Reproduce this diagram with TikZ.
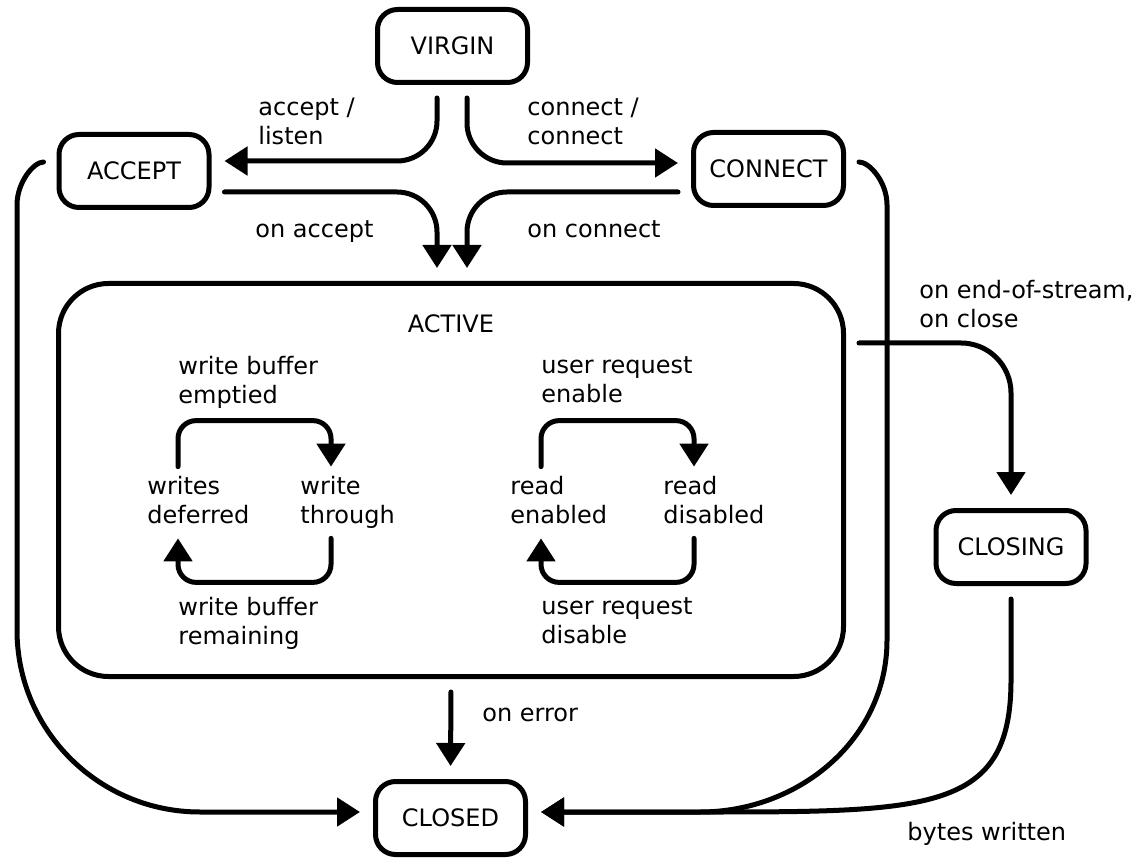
\documentclass[tikz,border=0pt]{standalone}
\usepackage{fontspec}
\setmainfont{DejaVu Sans}
\usetikzlibrary{arrows.meta}

\tikzset{
	statebox/.style={draw, line width=2.5pt, rounded corners=10pt, minimum width=75pt, minimum height=36.5pt},
	substate/.style={align=left, inner sep=0pt, anchor=west, execute at begin node=\strut, execute at end node=\strut},
	lbl/.style={align=left, inner sep=0pt, execute at begin node=\strut, execute at end node=\strut},
	trans/.style={line width=2.5pt, line cap=round, -{Triangle[length=11.5pt,width=14pt]}, shorten <=6.5pt, shorten >=6.5pt},
	looparr/.style={line width=2.5pt, line cap=round, rounded corners=9pt, -{Triangle[length=11.5pt,width=14pt]}}
}

\begin{document}
\begin{tikzpicture}[x=0.5pt, y=-0.5pt, font=\fontsize{12}{14.5}\selectfont]
	\useasboundingbox (0,0) rectangle (1139,860);

	\node[statebox] (virgin) at (452.5,46) {VIRGIN};
	\node[statebox] (accept) at (134,171) {ACCEPT};
	\node[statebox] (connect) at (768.5,169) {CONNECT};
	\node[draw, line width=2.5pt, rounded corners=25pt, minimum width=392.5pt, minimum height=196.5pt] (active) at (451,480) {};
	\node[statebox] (closing) at (1011,547) {CLOSING};
	\node[statebox] (closed) at (450.5,818) {CLOSED};

	\node[lbl] (activelbl) at (451,327) {ACTIVE};

	% inside ACTIVE
	\node[substate] (wd) at (147,504) {writes\\deferred};
	\node[substate] (wt) at (300,504) {write\\through};
	\node[substate] (re) at (510,504) {read\\enabled};
	\node[substate] (rd) at (663,504) {read\\disabled};

	\draw[looparr] ([xshift=15.5pt,yshift=4.5pt]wd.north west) -- ++(0,-46) -| ([xshift=15.5pt,yshift=4.5pt]wt.north west);
	\draw[looparr] ([xshift=15.5pt,yshift=-3pt]wt.south west) -- ++(0,44) -| ([xshift=15.5pt,yshift=-3pt]wd.south west);
	\draw[looparr] ([xshift=15.5pt,yshift=4.5pt]re.north west) -- ++(0,-46) -| ([xshift=15.5pt,yshift=4.5pt]rd.north west);
	\draw[looparr] ([xshift=15.5pt,yshift=-3pt]rd.south west) -- ++(0,44) -| ([xshift=15.5pt,yshift=-3pt]re.south west);

	\node[lbl, anchor=west] (wbe) at (178,384) {write buffer\\emptied};
	\node[lbl, anchor=west] (wbr) at (178,625) {write buffer\\remaining};
	\node[lbl, anchor=west] (ure) at (541,384) {user request\\enable};
	\node[lbl, anchor=west] (urd) at (541,625) {user request\\disable};

	% transitions
	\draw[trans, rounded corners=20pt] ([xshift=-7.75pt]virgin.south) |- ([yshift=5pt]accept.east);
	\draw[trans, rounded corners=20pt] ([xshift=7.25pt]virgin.south) |- ([yshift=3pt]connect.west);
	\draw[trans, rounded corners=20pt] ([yshift=-10.5pt]accept.east) -| ([xshift=-7pt]active.north);
	\draw[trans, rounded corners=20pt] ([yshift=-11.5pt]connect.west) -| ([xshift=8pt]active.north);
	\draw[trans, rounded corners=25pt] ([yshift=68.5pt]active.east) -| (closing.north);
	\draw[trans] (active.south) -- (closed.north);
	\draw[trans] ([yshift=4.5pt]accept.west) to[out=180,in=90] (17,205) -- (17,630) to[out=-90,in=180] (200,812) -- ([yshift=3pt]closed.west);
	\draw[trans] ([yshift=3.5pt]connect.east) to[out=0,in=90] (887,205) -- (887,640) to[out=-90,in=0] (700,812) -- ([yshift=3pt]closed.east);
	\draw[trans] (closing.south) -- (1011,680) .. controls (1011,812) and (930,812) .. (700,812) -- ([yshift=3pt]closed.east);

	\node[lbl, anchor=west] (l1) at (258,126) {accept /\\listen};
	\node[lbl, anchor=west] (l2) at (527,126) {connect /\\connect};
	\node[lbl, anchor=west] (l3) at (255,232) {on accept};
	\node[lbl, anchor=west] (l4) at (527,232) {on connect};
	\node[lbl, anchor=west] (l5) at (919,308) {on end-of-stream,\\on close};
	\node[lbl, anchor=west] (l6) at (482,716) {on error};
	\node[lbl, anchor=west] (l7) at (907,835) {bytes written};
\end{tikzpicture}
\end{document}
